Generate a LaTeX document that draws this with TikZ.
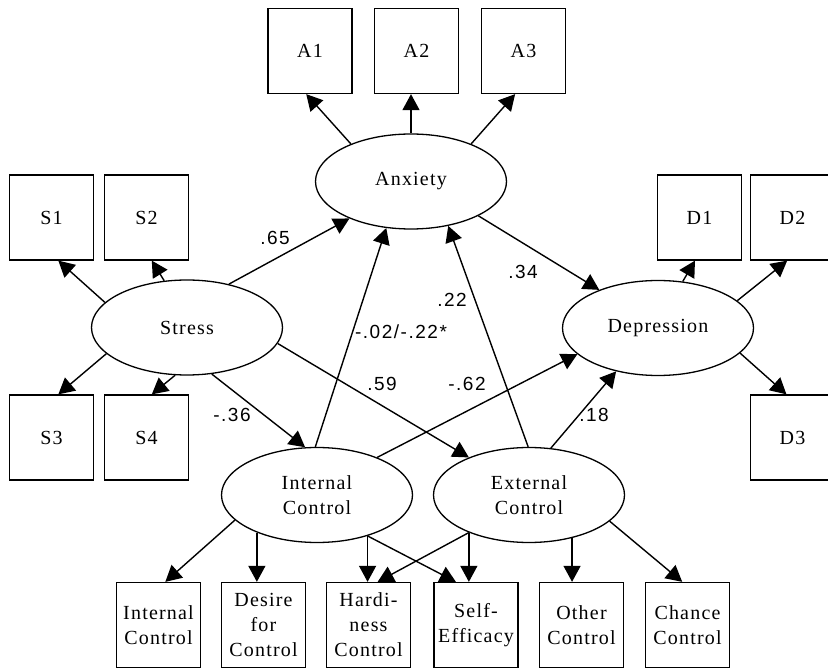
\documentclass[tikz,border=0pt]{standalone}
\usepackage{fontspec}
\setmainfont[LetterSpace=6]{Liberation Serif}
\newfontfamily\coeffont[LetterSpace=8]{Liberation Sans}
\usetikzlibrary{arrows.meta}
\usetikzlibrary{shapes.geometric}
\tikzset{
  obs/.style={draw, line width=1.3pt, minimum width=84pt, minimum height=85pt,
    inner sep=0pt, align=center, font=\fontsize{20}{25}\selectfont},
  latent/.style={draw, ellipse, line width=1.3pt, minimum width=191pt,
    minimum height=95pt, inner sep=0pt, align=center, font=\fontsize{20}{25}\selectfont},
  arr/.style={line width=1.4pt, -{Triangle[length=16pt,width=17pt]}},
  coef/.style={inner sep=0pt, font=\coeffont\fontsize{19}{22}\selectfont}
}

\begin{document}
\begin{tikzpicture}[x=1pt,y=-1pt]
\useasboundingbox (0,0) rectangle (828,668);
% latent variables
\node[latent] (anx) at (411,181.5) {Anxiety};
\node[latent] (stress) at (187,327.5) {Stress};
\node[latent] (dep) at (658,328) {Depression};
\node[latent] (int) at (317,495) {Internal\\Control};
\node[latent] (ext) at (529,495) {External\\Control};
% indicators
\node[obs] (a1) at (310,51) {A1};
\node[obs] (a2) at (416.5,51) {A2};
\node[obs] (a3) at (523.5,51) {A3};
\node[obs] (s1) at (51.5,217.5) {S1};
\node[obs] (s2) at (146.5,217.5) {S2};
\node[obs] (s3) at (51.5,437.5) {S3};
\node[obs] (s4) at (146.5,437.5) {S4};
\node[obs] (d1) at (699.5,217.5) {D1};
\node[obs] (d2) at (792.5,217.5) {D2};
\node[obs] (d3) at (792.5,437.5) {D3};
\node[obs] (ic) at (158.5,625) {Internal\\Control};
\node[obs] (desire) at (263.5,625) {Desire\\for\\Control};
\node[obs] (hardi) at (368.5,625) {Hardi-\\ness\\Control};
\node[obs] (self) at (476,625) {Self-\\Efficacy};
\node[obs] (other) at (581.5,625) {Other\\Control};
\node[obs] (chance) at (687.5,625) {Chance\\Control};
% measurement arrows
\draw[arr] (stress.163) -- (s1.279);
\draw[arr] (stress.116) -- (s2.277);
\draw[arr] (stress.198) -- (s3.81);
\draw[arr] (stress.256) -- (s4.83);
\draw[arr] (anx.148) -- (a1.265);
\draw[arr] (anx.north) -- (anx.north |- a2.south);
\draw[arr] (anx.32) -- (a3.259);
\draw[arr] (dep.62) -- (d1.264);
\draw[arr] (dep.19) -- (d2.263);
\draw[arr] (dep.343) -- (d3.98);
\draw[arr] (int.197) -- (ic.81);
\draw[arr] (int.212) -- (int.212 |- desire.north);
\draw[arr] (int.321) -- (int.321 |- hardi.north);
\draw[arr] (int.321) -- (self.115);
\draw[arr] (ext.212) -- (hardi.78);
\draw[arr] (ext.212) -- (ext.212 |- self.north);
\draw[arr] (ext.315) -- (ext.315 |- other.north);
\draw[arr] (ext.342) -- (chance.97);
% structural paths
\draw[arr] (stress.46) -- (anx.211);
\draw[arr] (stress.298) -- (int.104);
\draw[arr] (stress.350) -- (ext.148);
\draw[arr] (int.92) -- (anx.242);
\draw[arr] (ext.91) -- (anx.310);
\draw[arr] (anx.333) -- (dep.147);
\draw[arr] (int.32) -- (dep.198);
\draw[arr] (ext.65) -- (dep.226);
% coefficients
\node[coef] (c65) at (275,238) {.65};
\node[coef] (c36) at (232,415) {-.36};
\node[coef] (c59) at (382,384) {.59};
\node[coef] (c02) at (401,332) {-.02/-.22*};
\node[coef] (c22) at (452,300) {.22};
\node[coef] (c34) at (523,272) {.34};
\node[coef] (c62) at (467,384) {-.62};
\node[coef] (c18) at (594,415) {.18};
\end{tikzpicture}
\end{document}
